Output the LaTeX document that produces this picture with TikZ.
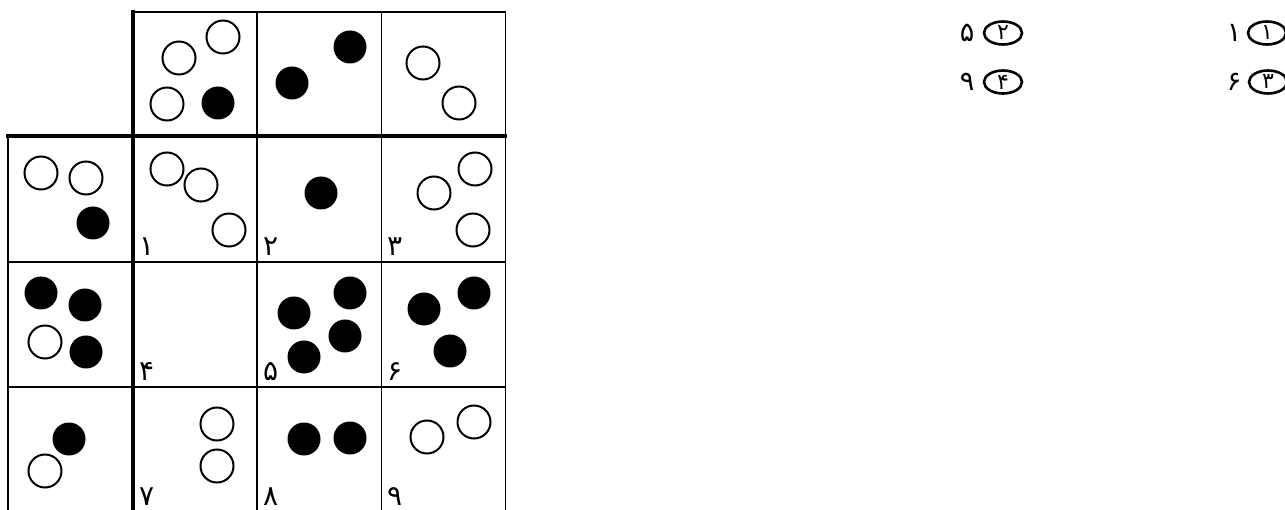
\documentclass[tikz,border=0pt]{standalone}
\usepackage{fontspec}
\newfontfamily\arabicfont[Script=Arabic]{DejaVu Sans}
\usetikzlibrary{shapes.geometric}
\begin{document}
\begin{tikzpicture}[x=1pt,y=-1pt,
  thin line/.style={line width=1.8pt},
  thick line/.style={line width=4pt},
  wc/.style={draw, line width=2pt, fill=white},
  bc/.style={fill=black},
  lab/.style={anchor=base west, inner sep=0pt, font=\arabicfont\fontsize{28}{30}\selectfont},
  opt/.style={draw, ellipse, line width=2.6pt, minimum width=38pt, minimum height=23pt, inner sep=0pt},
  optnum/.style={inner sep=0pt, font=\arabicfont\fontsize{22}{24}\selectfont},
  val/.style={inner sep=0pt, font=\arabicfont\fontsize{27}{29}\selectfont}]
\useasboundingbox (0,0) rectangle (1285,510);
\def\rr{16.5}
% grid
\draw[thin line] (133,12) -- (505.5,12);
\draw[thin line] (8,136) -- (8,510);
\draw[thin line] (505.5,12) -- (505.5,510);
\draw[thin line] (257,12) -- (257,510);
\draw[thin line] (381.5,12) -- (381.5,510);
\draw[thin line] (8,262) -- (505.5,262);
\draw[thin line] (8,387) -- (505.5,387);
\draw[thick line] (133,10) -- (133,510);
\draw[thick line] (6,136) -- (507,136);
% top row
\draw[wc] (223,37) circle (\rr);
\draw[wc] (179,58) circle (\rr);
\draw[wc] (167,104) circle (\rr);
\fill[bc] (218,103) circle (\rr);
\fill[bc] (350,47) circle (\rr);
\fill[bc] (292,83) circle (\rr);
\draw[wc] (423,63) circle (\rr);
\draw[wc] (459,103) circle (\rr);
% row 1
\draw[wc] (41,173) circle (\rr);
\draw[wc] (86,178) circle (\rr);
\fill[bc] (93,223) circle (\rr);
\draw[wc] (167,169) circle (\rr);
\draw[wc] (201,185) circle (\rr);
\draw[wc] (229,230) circle (\rr);
\fill[bc] (321,193) circle (\rr);
\draw[wc] (475,169) circle (\rr);
\draw[wc] (434,193) circle (\rr);
\draw[wc] (473,230) circle (\rr);
% row 2
\fill[bc] (41,293) circle (\rr);
\fill[bc] (85,305) circle (\rr);
\draw[wc] (45,342) circle (\rr);
\fill[bc] (86,352) circle (\rr);
\fill[bc] (294,313) circle (\rr);
\fill[bc] (350,293) circle (\rr);
\fill[bc] (345,336) circle (\rr);
\fill[bc] (304,357) circle (\rr);
\fill[bc] (424,309) circle (\rr);
\fill[bc] (474,293) circle (\rr);
\fill[bc] (450,351) circle (\rr);
% row 3
\fill[bc] (69,439) circle (\rr);
\draw[wc] (45,471) circle (\rr);
\draw[wc] (217,424) circle (\rr);
\draw[wc] (217,466) circle (\rr);
\fill[bc] (304,439) circle (\rr);
\fill[bc] (350,438) circle (\rr);
\draw[wc] (427,437) circle (\rr);
\draw[wc] (474,422) circle (\rr);
% labels
\node[lab] (l1) at (139,256) {۱};
\node[lab] (l2) at (263,256) {۲};
\node[lab] (l3) at (387,256) {۳};
\node[lab] (l4) at (139,381) {۴};
\node[lab] (l5) at (263,381) {۵};
\node[lab] (l6) at (387,381) {۶};
\node[lab] (l7) at (139,505) {۷};
\node[lab] (l8) at (263,505) {۸};
\node[lab] (l9) at (387,505) {۹};
% options
\node[opt] (o1) at (1267,33) {};
\node[optnum] (n1) at (o1) {۱};
\node[val] (v1) at (1234,33) {۱};
\node[opt] (o2) at (1003,33) {};
\node[optnum] (n2) at (o2) {۲};
\node[val] (v2) at (967,33) {۵};
\node[opt] (o3) at (1268,82) {};
\node[optnum] (n3) at (o3) {۳};
\node[val] (v3) at (1234,82) {۶};
\node[opt] (o4) at (1003,82) {};
\node[optnum] (n4) at (o4) {۴};
\node[val] (v4) at (967,82) {۹};
\end{tikzpicture}
\end{document}
